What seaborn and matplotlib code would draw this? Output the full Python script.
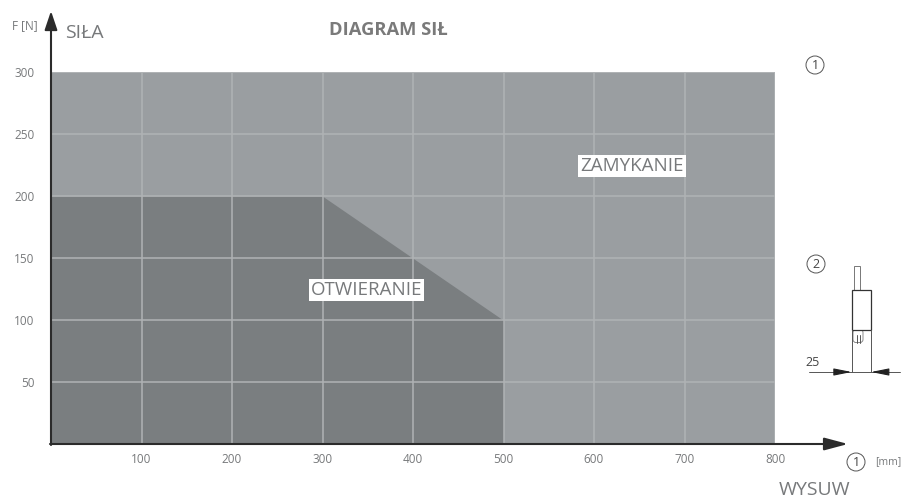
import matplotlib
matplotlib.use("Agg")
import matplotlib.pyplot as plt
from matplotlib.patches import Circle, Rectangle, FancyBboxPatch
import seaborn as sns
import pandas as pd

# dane
x_ticks = [100, 200, 300, 400, 500, 600, 700, 800]
y_ticks = [50, 100, 150, 200, 250, 300]
zamykanie_x = [0, 800]
zamykanie_y = [300, 300]
otwieranie_x = [0, 300, 500]
otwieranie_y = [200, 200, 100]

sns.set_theme(style="white")
plt.rcParams["font.family"] = ["Open Sans", "DejaVu Sans"]

TXT = "#77797b"
W, H = 901, 499

fig = plt.figure(figsize=(W / 100, H / 100), dpi=100)
ax = fig.add_axes([51 / W, (H - 444.5) / H, 724 / W, 372.5 / H])

df_z = pd.DataFrame({"x": zamykanie_x, "y": zamykanie_y})
df_o = pd.DataFrame({"x": otwieranie_x, "y": otwieranie_y})

# obszary
ax.fill_between(df_z["x"], df_z["y"], color="#9a9ea1", lw=0, zorder=1)
ax.fill_between(df_o["x"], df_o["y"], color="#7a7e80", lw=0, zorder=1.5)
ax.vlines(x_ticks, 0, 300, color="#b0b3b5", lw=1.1, zorder=2)
ax.hlines(y_ticks, 0, 800, color="#b0b3b5", lw=1.1, zorder=2)
sns.lineplot(data=df_z, x="x", y="y", color="#b0b3b5", lw=1.5, ax=ax, zorder=3)

ax.set_xlim(0, 800)
ax.set_ylim(0, 300)
ax.set_xticks(x_ticks)
ax.set_yticks(y_ticks)
ax.set_xlabel("")
ax.set_ylabel("")
ax.tick_params(axis="x", length=0, labelsize=8.5, labelcolor=TXT, pad=6)
ax.tick_params(axis="y", length=0, labelsize=8.5, labelcolor=TXT, pad=12)
for s in ax.spines.values():
    s.set_visible(False)

ax.text(349, 124.4, "OTWIERANIE", color="#77797b", fontsize=13.5, ha="center", va="center",
        bbox=dict(fc="white", ec="none", pad=2, boxstyle="square,pad=0.1"), zorder=4)
ax.text(642, 224, "ZAMYKANIE", color="#77797b", fontsize=13.5, ha="center", va="center",
        bbox=dict(fc="white", ec="none", pad=2, boxstyle="square,pad=0.1"), zorder=4)

# warstwa w pikselach na strzalki i rysunek
ov = fig.add_axes([0, 0, 1, 1], facecolor="none")
ov.set_xlim(0, W)
ov.set_ylim(H, 0)
ov.axis("off")

ov.annotate("", xy=(51, 11), xytext=(51, 445), arrowprops=dict(arrowstyle="-|>,head_width=0.32,head_length=0.95", color="#2b2b2b", lw=1.5, shrinkA=0, shrinkB=0))
ov.annotate("", xy=(848, 444), xytext=(50, 444), arrowprops=dict(arrowstyle="-|>,head_width=0.32,head_length=1.2", color="#2b2b2b", lw=1.5, shrinkA=0, shrinkB=0))

ov.text(24.5, 26, "F [N]", color=TXT, fontsize=8.5, ha="center", va="center")
ov.text(84, 33, "SIŁA", color=TXT, fontsize=14, ha="center", va="center")
ov.text(388, 30, "DIAGRAM SIŁ", color="#7a7a7a", fontsize=13.2, fontweight="bold", ha="center", va="center")
ov.text(815, 490, "WYSUW", color=TXT, fontsize=14, ha="center", va="center")
ov.text(888, 462, "[mm]", color=TXT, fontsize=7.5, ha="center", va="center")


def numer(x, y, s):
    ov.add_patch(Circle((x, y), 9, fc="white", ec="#555555", lw=0.7))
    ov.text(x, y, s, color="#444444", fontsize=9, ha="center", va="center")


numer(815, 65, "1")
numer(816, 264, "2")
numer(856, 462, "1")

# rysunek silownika
ln = dict(color="#555555", lw=0.7)
ov.add_patch(Rectangle((854, 266), 6, 24, fc="white", ec="#777777", lw=0.7))
ov.add_patch(FancyBboxPatch((854.5, 331), 7, 10, boxstyle="round,pad=1.5,rounding_size=3", fc="white", ec="#777777", lw=0.6))
ov.plot([856.5, 856.5], [335, 343], **ln)
ov.plot([859.5, 859.5], [335, 343], **ln)
ov.add_patch(Rectangle((851.7, 290), 19.3, 40, fc="white", ec="#333333", lw=0.9))
ov.plot([851.7, 851.7], [330, 372], **ln)
ov.plot([871, 871], [330, 372], **ln)
ov.plot([809, 900], [372, 372], **ln)
ov.annotate("", xy=(851.7, 372), xytext=(836, 372), arrowprops=dict(arrowstyle="-|>,head_width=0.18,head_length=0.9", color="#222222", lw=0.8, shrinkA=0, shrinkB=0))
ov.annotate("", xy=(871, 372), xytext=(887, 372), arrowprops=dict(arrowstyle="-|>,head_width=0.18,head_length=0.9", color="#222222", lw=0.8, shrinkA=0, shrinkB=0))
ov.text(813, 362, "25", color="#444444", fontsize=9, ha="center", va="center")

fig.savefig("out.png", dpi=100)
